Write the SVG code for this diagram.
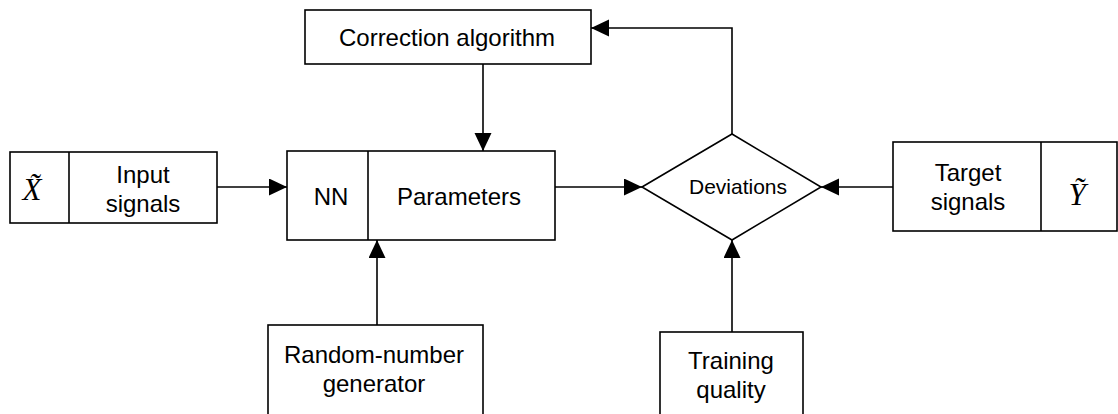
<svg xmlns="http://www.w3.org/2000/svg" width="1118" height="414" viewBox="0 0 1118 414">
<style>
.box{fill:#fff;stroke:#000;stroke-width:1.6}
.ln{fill:none;stroke:#000;stroke-width:1.6}
.t{font-family:"Liberation Sans",Arial,sans-serif;font-size:24px;fill:#000;text-anchor:middle}
.m{font-family:"Liberation Serif","Times New Roman",serif;font-style:italic;font-size:31px;fill:#000;text-anchor:middle}
</style>
<defs>
<marker id="ah" markerUnits="userSpaceOnUse" markerWidth="18" markerHeight="18" refX="18" refY="8.5" orient="auto">
<path d="M0,0 L18,8.5 L0,17 z" fill="#000"/>
</marker>
</defs>
<rect width="1118" height="414" fill="#fff"/>
<g id="connectors">
<line class="ln" x1="217" y1="187" x2="287" y2="187" marker-end="url(#ah)"/>
<line class="ln" x1="555" y1="187" x2="642" y2="187" marker-end="url(#ah)"/>
<line class="ln" x1="893" y1="187" x2="821" y2="187" marker-end="url(#ah)"/>
<line class="ln" x1="483" y1="64" x2="483" y2="151" marker-end="url(#ah)"/>
<line class="ln" x1="377" y1="325" x2="377" y2="240" marker-end="url(#ah)"/>
<line class="ln" x1="732" y1="332" x2="732" y2="240" marker-end="url(#ah)"/>
<polyline class="ln" points="732,134 732,28 591,28" marker-end="url(#ah)"/>
</g>
<g id="input">
<rect class="box" x="10" y="152" width="207" height="71"/>
<line class="ln" x1="69" y1="152" x2="69" y2="223"/>
<text class="m" x="32" y="200">X̃</text>
<text class="t" x="143" y="183">Input</text>
<text class="t" x="143" y="212">signals</text>
</g>
<g id="nn">
<rect class="box" x="287" y="151" width="268" height="89"/>
<line class="ln" x1="368" y1="151" x2="368" y2="240"/>
<text class="t" x="331" y="205">NN</text>
<text class="t" x="459" y="205">Parameters</text>
</g>
<g id="correction">
<rect class="box" x="305" y="10" width="286" height="54"/>
<text class="t" x="447" y="46">Correction algorithm</text>
</g>
<g id="deviations">
<polygon class="box" points="642,187 732,134 821,187 732,240"/>
<text class="t" x="738" y="194" style="font-size:21px">Deviations</text>
</g>
<g id="target">
<rect class="box" x="893" y="142" width="224" height="89"/>
<line class="ln" x1="1041" y1="142" x2="1041" y2="231"/>
<text class="t" x="968" y="181">Target</text>
<text class="t" x="968" y="210">signals</text>
<text class="m" x="1077" y="205">Ỹ</text>
</g>
<g id="random">
<rect class="box" x="268" y="325" width="215" height="100"/>
<text class="t" x="374" y="363">Random-number</text>
<text class="t" x="374" y="392">generator</text>
</g>
<g id="training">
<rect class="box" x="660" y="332" width="143" height="100"/>
<text class="t" x="731" y="369">Training</text>
<text class="t" x="731" y="398">quality</text>
</g>
</svg>
